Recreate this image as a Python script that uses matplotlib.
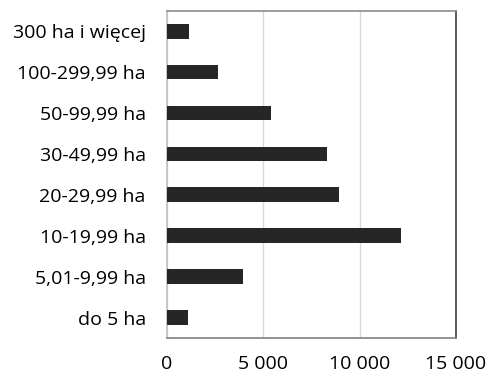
import matplotlib
matplotlib.use("Agg")
import matplotlib.pyplot as plt

# farm counts by area group
categories = ["do 5 ha", "5,01-9,99 ha", "10-19,99 ha", "20-29,99 ha",
              "30-49,99 ha", "50-99,99 ha", "100-299,99 ha", "300 ha i więcej"]
counts = [1120, 3940, 12150, 8920, 8330, 5390, 2650, 1170]
xticks = [0, 5000, 10000, 15000]
xtick_labels = ["0", "5 000", "10 000", "15 000"]

plt.rcParams['font.family'] = ['Open Sans', 'DejaVu Sans']

fig = plt.figure(figsize=(4.86, 3.76), dpi=100)
ax = fig.add_axes([166.7 / 486, 1 - 338 / 376, (456 - 166.7) / 486, (338 - 10.7) / 376])

ax.barh(range(len(categories)), counts, height=0.36, color="#262626", zorder=3)

ax.set_xlim(0, 15000)
ax.set_ylim(-0.5, len(categories) - 0.5)
ax.set_xticks(xticks)
ax.set_xticklabels(xtick_labels)
ax.set_yticks(range(len(categories)))
ax.set_yticklabels(categories)
ax.tick_params(axis="both", length=0, labelsize=14, colors="#000000")
ax.tick_params(axis="x", pad=12.5)
ax.tick_params(axis="y", pad=15)

ax.grid(axis="x", color="#d9d9d9", linewidth=1, zorder=0)
# frame: light on the left, darker on the right
ax.spines["left"].set_color("#bfbfbf")
ax.spines["top"].set_color("#8c8c8c")
ax.spines["bottom"].set_color("#808080")
ax.spines["right"].set_color("#404040")
for side in ax.spines.values():
    side.set_linewidth(1.2)

fig.savefig("out.png", dpi=100)
